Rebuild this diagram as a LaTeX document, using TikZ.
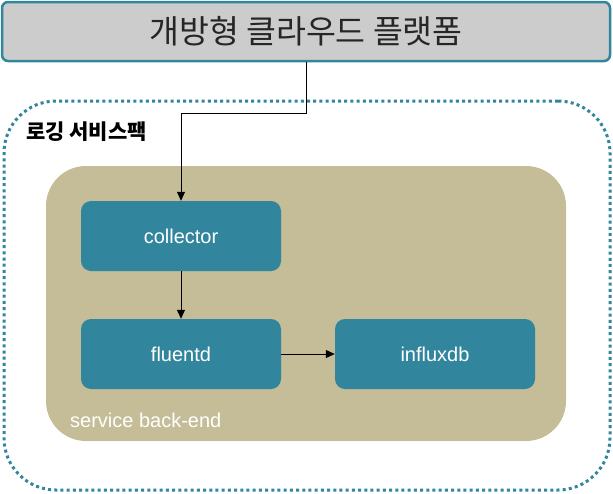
\documentclass[tikz,border=0pt]{standalone}
\usepackage{fontspec}
\setmainfont{Liberation Sans}
\newfontfamily\kr{Noto Sans CJK KR}
\usetikzlibrary{arrows.meta}
\definecolor{teal1}{HTML}{31859C}
\definecolor{tan1}{HTML}{C4BD97}
\definecolor{grey1}{HTML}{CCCCCC}
\tikzset{
  proc/.style={draw=none, fill=teal1, rounded corners=10pt, minimum width=200pt, minimum height=70pt, text=white, font=\fontsize{20}{24}\selectfont, inner sep=0pt},
  conn/.style={draw=black, line width=1pt, -{Triangle[length=9pt,width=8pt]}}
}
\begin{document}
\begin{tikzpicture}[x=1pt,y=-1pt]
\useasboundingbox (0,0) rectangle (613,493);
% top box
\node[draw=teal1, line width=2.5pt, fill=grey1, rounded corners=6pt, minimum width=608pt, minimum height=59pt, inner sep=0pt, font=\kr\fontsize{32.5}{36}\selectfont, text=black!85] (top) at (306,31.5) {개방형 클라우드 플랫폼};
% dotted container
\node[draw=teal1, line width=3pt, dash pattern=on 3pt off 3.2pt, rounded corners=52pt, minimum width=606pt, minimum height=389pt, inner sep=0pt] (cont) at (307,295.5) {};
\node[anchor=west, font=\kr\bfseries\fontsize{21}{24}\selectfont, inner sep=0pt] (lbl) at (26,132) {로깅 서비스팩};
% tan back-end
\node[fill=tan1, rounded corners=40pt, minimum width=520pt, minimum height=275pt, inner sep=0pt] (be) at (306,303.5) {};
\node[anchor=west, text=white, font=\fontsize{20}{24}\selectfont, inner sep=0pt] (belbl) at (70,420) {service back-end};
% process nodes
\node[proc] (col) at (181,236) {collector};
\node[proc] (flu) at (181,354) {fluentd};
\node[proc] (inf) at (435,354) {influxdb};
% connectors
\coordinate (bend1) at (306,113);
\coordinate (bend2) at (181,113);
\draw[conn] (top.south) -- (bend1) -- (bend2) -- (col.north);
\draw[conn] (col.south) -- (flu.north);
\draw[conn] (flu.east) -- (inf.west);
\end{tikzpicture}
\end{document}
